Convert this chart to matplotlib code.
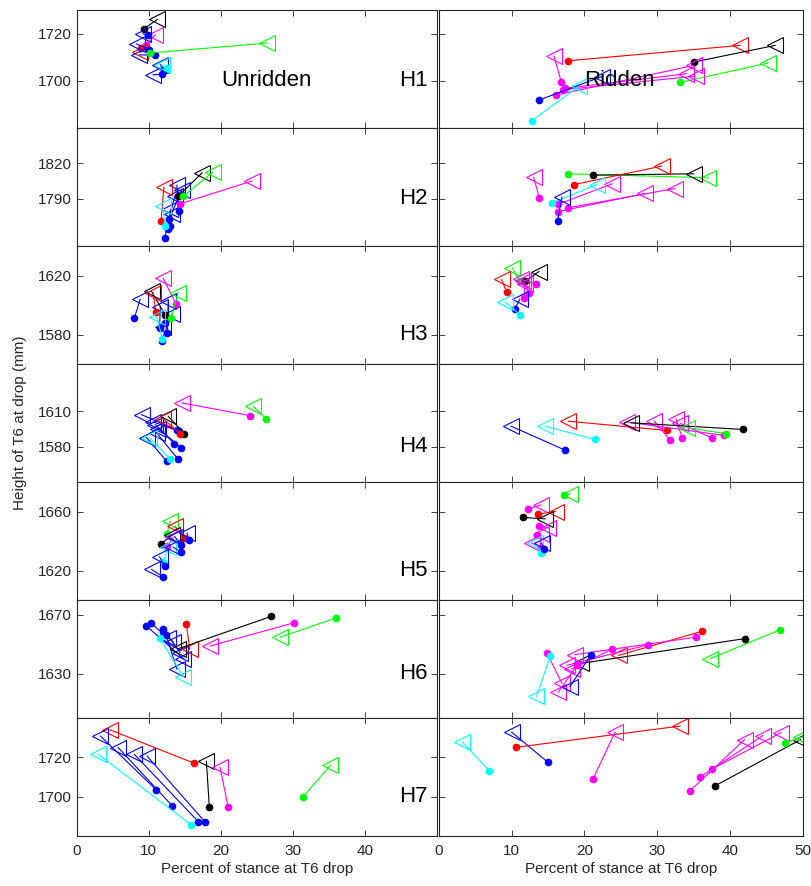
import matplotlib
matplotlib.use("Agg")
import matplotlib.pyplot as plt

plt.rcParams["font.family"] = ["Liberation Sans", "DejaVu Sans"]

# each trial: (group, start %, start height, end %, end height)
COLORS = {1: "k", 2: "r", 3: "#00ff00", 4: "b", 5: "#00ffff", 6: "#ff00ff"}

h1_unridden = [
    (1, 9.3, 1722.0, 11.2, 1726.0),
    (6, 9.6, 1715.0, 10.9, 1719.5),
    (2, 8.9, 1714.0, 8.8, 1712.0),
    (4, 10.0, 1713.2, 8.3, 1715.6),
    (4, 9.9, 1719.3, 9.2, 1719.9),
    (4, 10.8, 1710.9, 8.7, 1711.0),
    (4, 11.8, 1702.8, 10.6, 1702.5),
    (4, 12.2, 1704.5, 11.6, 1706.8),
    (5, 12.5, 1705.4, 11.8, 1706.8),
    (3, 10.2, 1711.8, 26.4, 1716.0),
]
h1_ridden = [
    (2, 17.8, 1708.5, 41.4, 1715.0),
    (1, 35.1, 1708.0, 46.2, 1715.0),
    (3, 33.1, 1699.3, 45.2, 1707.5),
    (6, 16.8, 1699.7, 15.8, 1710.5),
    (6, 16.1, 1694.0, 35.0, 1706.5),
    (6, 17.0, 1696.2, 35.3, 1702.0),
    (6, 17.3, 1696.8, 34.0, 1703.0),
    (4, 13.8, 1691.9, 22.4, 1701.8),
    (5, 12.75, 1683.1, 19.2, 1697.6),
]
h2_unridden = [
    (4, 12.2, 1756.9, 13.6, 1792.2),
    (4, 12.7, 1764.0, 13.0, 1781.0),
    (4, 12.95, 1767.3, 13.2, 1776.8),
    (4, 12.85, 1773.0, 14.6, 1797.8),
    (4, 14.2, 1780.0, 13.9, 1801.5),
    (2, 11.7, 1771.0, 12.1, 1799.9),
    (5, 12.2, 1767.3, 12.0, 1784.3),
    (1, 14.1, 1792.2, 17.4, 1812.0),
    (3, 14.8, 1792.2, 18.9, 1812.6),
    (6, 14.35, 1785.8, 24.3, 1805.0),
]
h2_ridden = [
    (3, 17.8, 1811.2, 37.0, 1807.8),
    (1, 21.2, 1810.0, 35.0, 1811.2),
    (2, 18.6, 1802.1, 30.6, 1817.7),
    (6, 13.8, 1790.8, 13.0, 1808.3),
    (6, 16.3, 1779.0, 28.3, 1794.5),
    (6, 17.7, 1782.4, 32.4, 1798.7),
    (6, 16.3, 1785.2, 23.8, 1802.7),
    (5, 15.6, 1786.6, 21.7, 1802.1),
    (4, 16.3, 1771.6, 16.9, 1791.4),
]
h3_unridden = [
    (4, 8.0, 1591.2, 8.8, 1603.8),
    (4, 11.5, 1584.5, 11.6, 1598.6),
    (4, 12.6, 1581.3, 12.7, 1602.5),
    (4, 11.8, 1575.6, 13.2, 1594.1),
    (4, 12.3, 1588.0, 12.0, 1585.0),
    (1, 12.3, 1593.0, 10.4, 1609.2),
    (2, 11.0, 1595.3, 10.6, 1608.3),
    (6, 13.75, 1600.9, 12.0, 1618.2),
    (3, 13.05, 1591.2, 14.1, 1608.3),
    (5, 11.9, 1576.9, 11.1, 1591.9),
]
h3_ridden = [
    (3, 11.1, 1616.0, 10.1, 1624.9),
    (1, 11.8, 1616.0, 13.75, 1622.7),
    (2, 9.3, 1608.8, 8.6, 1617.3),
    (6, 13.4, 1614.3, 11.3, 1617.3),
    (6, 12.4, 1608.1, 11.6, 1616.0),
    (6, 11.7, 1604.7, 11.8, 1614.0),
    (4, 10.45, 1597.5, 11.1, 1603.8),
    (5, 11.2, 1593.0, 9.1, 1602.0),
]
h4_unridden = [
    (4, 13.9, 1594.0, 9.0, 1607.1),
    (4, 14.2, 1593.0, 10.6, 1601.0),
    (4, 13.55, 1582.5, 10.9, 1598.7),
    (4, 14.5, 1579.2, 11.35, 1595.0),
    (4, 14.0, 1569.9, 11.1, 1591.4),
    (4, 12.5, 1567.4, 9.7, 1587.6),
    (5, 12.9, 1569.9, 10.1, 1587.6),
    (1, 14.95, 1590.9, 12.7, 1605.7),
    (2, 14.4, 1590.9, 12.0, 1603.5),
    (6, 24.0, 1606.3, 14.6, 1617.0),
    (3, 26.3, 1603.5, 24.5, 1614.1),
]
h4_ridden = [
    (4, 17.3, 1577.1, 9.9, 1597.3),
    (5, 21.4, 1586.1, 14.6, 1597.3),
    (2, 31.3, 1593.7, 17.8, 1601.5),
    (6, 31.8, 1585.3, 29.6, 1601.5),
    (6, 33.4, 1587.6, 32.6, 1603.5),
    (6, 37.5, 1587.2, 33.2, 1599.6),
    (6, 39.2, 1589.5, 25.9, 1600.7),
    (1, 41.8, 1594.5, 26.4, 1600.2),
    (3, 39.5, 1590.9, 34.1, 1596.0),
]
h5_unridden = [
    (3, 12.5, 1644.7, 13.0, 1653.3),
    (2, 14.95, 1642.0, 13.65, 1649.9),
    (1, 11.7, 1638.0, 13.2, 1643.8),
    (6, 12.5, 1636.4, 13.4, 1642.5),
    (5, 12.0, 1625.9, 12.7, 1635.8),
    (4, 15.6, 1640.9, 15.3, 1645.4),
    (4, 14.5, 1637.5, 13.6, 1643.0),
    (4, 14.5, 1632.4, 13.4, 1635.8),
    (4, 12.2, 1623.0, 11.5, 1629.2),
    (4, 12.0, 1615.6, 10.4, 1620.7),
]
h5_ridden = [
    (3, 17.2, 1671.2, 18.0, 1672.0),
    (6, 12.2, 1661.5, 14.0, 1664.4),
    (2, 13.6, 1658.2, 16.05, 1660.0),
    (1, 11.6, 1656.0, 14.6, 1655.0),
    (6, 13.7, 1650.3, 15.0, 1648.8),
    (6, 13.45, 1643.8, 14.0, 1645.0),
    (6, 14.0, 1635.5, 12.75, 1638.7),
    (5, 14.0, 1631.9, 13.2, 1638.7),
    (4, 14.5, 1634.6, 14.1, 1638.7),
]
h6_unridden = [
    (4, 9.6, 1662.7, 14.8, 1640.3),
    (4, 10.3, 1664.2, 13.4, 1651.5),
    (4, 12.0, 1660.5, 14.35, 1644.4),
    (4, 12.0, 1658.0, 12.7, 1654.2),
    (4, 12.4, 1656.5, 13.9, 1633.2),
    (5, 11.5, 1654.2, 14.8, 1628.0),
    (2, 15.2, 1663.8, 15.7, 1646.6),
    (1, 27.0, 1668.9, 14.1, 1647.0),
    (6, 30.1, 1664.5, 18.5, 1648.8),
    (3, 36.0, 1667.8, 28.2, 1654.8),
]
h6_ridden = [
    (3, 46.9, 1659.8, 37.3, 1640.3),
    (1, 42.0, 1653.8, 19.5, 1637.0),
    (2, 36.1, 1658.7, 24.7, 1642.5),
    (6, 35.35, 1654.8, 18.7, 1643.0),
    (6, 28.8, 1649.7, 17.6, 1635.8),
    (6, 23.75, 1646.6, 18.25, 1633.2),
    (6, 14.8, 1644.4, 16.9, 1623.5),
    (6, 19.0, 1636.0, 16.4, 1617.5),
    (4, 20.9, 1643.0, 18.0, 1621.3),
    (5, 15.3, 1641.9, 13.4, 1614.6),
]
h7_unridden = [
    (2, 16.3, 1717.0, 4.6, 1734.0),
    (4, 11.0, 1703.6, 3.3, 1730.8),
    (4, 13.25, 1695.4, 5.75, 1725.0),
    (4, 16.9, 1687.2, 8.0, 1721.5),
    (4, 17.8, 1687.2, 9.8, 1720.5),
    (5, 15.9, 1685.6, 3.0, 1721.5),
    (1, 18.4, 1694.9, 18.0, 1718.0),
    (6, 21.0, 1694.9, 19.9, 1714.9),
    (3, 31.4, 1700.0, 35.2, 1715.9),
]
h7_ridden = [
    (4, 15.0, 1717.4, 10.0, 1732.8),
    (2, 10.6, 1725.1, 33.15, 1735.9),
    (5, 6.9, 1713.3, 3.2, 1727.7),
    (6, 21.2, 1709.2, 24.2, 1732.8),
    (6, 34.5, 1703.0, 42.0, 1729.0),
    (6, 35.9, 1710.0, 44.5, 1731.0),
    (6, 37.5, 1714.0, 47.0, 1732.5),
    (1, 38.0, 1705.6, 49.7, 1729.0),
    (3, 47.5, 1727.2, 49.8, 1730.3),
]

horse_names = ["H1", "H2", "H3", "H4", "H5", "H6", "H7"]
unridden = [h1_unridden, h2_unridden, h3_unridden, h4_unridden,
            h5_unridden, h6_unridden, h7_unridden]
ridden = [h1_ridden, h2_ridden, h3_ridden, h4_ridden,
          h5_ridden, h6_ridden, h7_ridden]
y_limits = [(1680, 1730), (1750, 1850), (1560, 1640), (1550, 1650),
            (1600, 1680), (1600, 1680), (1680, 1740)]
y_ticks = [[1700, 1720], [1790, 1820], [1580, 1620], [1580, 1610],
           [1620, 1660], [1630, 1670], [1700, 1720]]

W, H = 811, 886
fig = plt.figure(figsize=(W / 100, H / 100), dpi=100)

edge = "#262626"
row_h = 118


def draw_panel(ax, trials):
    for g, x0, y0, x1, y1 in trials:
        c = COLORS[g]
        ax.plot([x0, x1], [y0, y1], "-", color=c, lw=0.8)
        ax.plot(x0, y0, "o", color=c, ms=4.5, mec=c)
        ax.plot(x1, y1, "<", color=c, ms=11, mfc="none", mec=c, mew=0.8)


for i in range(7):
    top = 10 + i * row_h
    bottom = (H - top - row_h) / H
    axl = fig.add_axes([76.7 / W, bottom, 360.3 / W, row_h / H])
    axr = fig.add_axes([439 / W, bottom, 363.7 / W, row_h / H])
    draw_panel(axl, unridden[i])
    draw_panel(axr, ridden[i])
    for ax in (axl, axr):
        ax.set_xlim(0, 50)
        ax.set_ylim(*y_limits[i])
        ax.set_yticks(y_ticks[i])
        ax.set_xticks([0, 10, 20, 30, 40, 50])
        ax.tick_params(direction="in", top=True, right=True, length=4,
                       width=0.6, color=edge, labelsize=11, labelcolor=edge)
        ax.tick_params(axis="x", pad=6)
        for s in ax.spines.values():
            s.set_color(edge)
            s.set_linewidth(0.8)
    axr.set_yticklabels([])
    axl.text(48.7, y_ticks[i][0], horse_names[i], ha="right", va="center",
             fontsize=16)
    if i < 6:
        axl.set_xticklabels([])
        axr.set_xticklabels([])
    else:
        axl.set_xticklabels(["0", "10", "20", "30", "40", ""])
        axl.set_xlabel("Percent of stance at T6 drop", fontsize=11,
                       color=edge, labelpad=3)
        axr.set_xlabel("Percent of stance at T6 drop", fontsize=11,
                       color=edge, labelpad=3)
    if i == 0:
        axl.text(20, 1700, "Unridden", ha="left", va="center", fontsize=16)
        axr.text(20, 1700, "Ridden", ha="left", va="center", fontsize=16)

fig.text(20 / W, (H - 423) / H, "Height of T6 at drop (mm)", rotation=90,
         ha="center", va="center", fontsize=11, color=edge)

fig.savefig("out.png", dpi=100)
